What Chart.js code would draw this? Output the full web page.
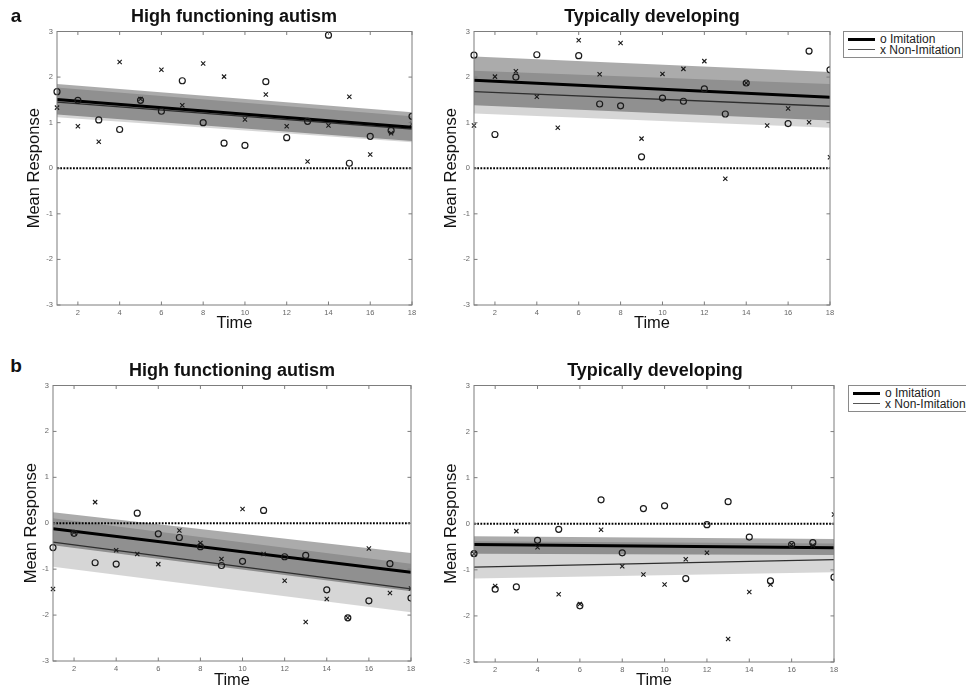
<!DOCTYPE html>
<html>
<head>
<meta charset="utf-8">
<script src="https://cdn.jsdelivr.net/npm/chart.js@4.4.1/dist/chart.umd.min.js"></script>
<style>
body { margin: 0; background: #fff; }
#wrap { position: relative; width: 966px; height: 691px; overflow: hidden; font-family: "Liberation Sans", Arial, sans-serif; }
canvas { position: absolute; }
.txt { position: absolute; white-space: nowrap; color: #111; }
.legend { position: absolute; border: 1px solid #8a8a8a; background: #fff; box-sizing: border-box; }
.legend .ln { position: absolute; left: 4px; width: 27px; background: #000; }
.legend .lt { position: absolute; left: 36px; font-size: 12px; line-height: 12px; color: #222; }
</style>
</head>
<body>
<div id="wrap">
  <canvas id="aHfa"></canvas>
  <canvas id="aTd"></canvas>
  <canvas id="bHfa"></canvas>
  <canvas id="bTd"></canvas>
</div>
<script>
// x values and ticks
const time = [1, 2, 3, 4, 5, 6, 7, 8, 9, 10, 11, 12, 13, 14, 15, 16, 17, 18];
const fitX = [1, 18];
const xTicks = [2, 4, 6, 8, 10, 12, 14, 16, 18];
const yTicks = [-3, -2, -1, 0, 1, 2, 3];
const zeroLine = [0, 0];

// a: High functioning autism
const aHfaImit = [1.68, 1.49, 1.06, 0.85, 1.49, 1.25, 1.92, 1.00, 0.55, 0.50, 1.90, 0.67, 1.03, 2.92, 0.11, 0.70, 0.83, 1.14];
const aHfaNon  = [1.33, 0.92, 0.58, 2.33, 1.52, 2.16, 1.38, 2.30, 2.01, 1.07, 1.62, 0.92, 0.15, 0.94, 1.57, 0.30, 0.77, 0.97];
const aHfaImitFit = [1.51, 0.90], aHfaImitHi = [1.85, 1.23], aHfaImitLo = [1.18, 0.60];
const aHfaNonFit  = [1.45, 0.86], aHfaNonHi  = [1.77, 1.14], aHfaNonLo  = [1.12, 0.57];

// a: Typically developing
const aTdImit = [2.48, 0.74, 2.00, 2.49, null, 2.47, 1.41, 1.37, 0.25, 1.54, 1.47, 1.74, 1.19, 1.87, null, 0.98, 2.57, 2.16];
const aTdNon  = [0.94, 2.01, 2.13, 1.57, 0.89, 2.81, 2.06, 2.75, 0.65, 2.07, 2.18, 2.35, -0.23, 1.87, 0.94, 1.31, 1.01, 0.24];
const aTdImitFit = [1.93, 1.56], aTdImitHi = [2.45, 2.11], aTdImitLo = [1.38, 1.05];
const aTdNonFit  = [1.68, 1.36], aTdNonHi  = [2.14, 1.85], aTdNonLo  = [1.20, 0.89];

// b: High functioning autism
const bHfaImit = [-0.53, -0.22, -0.86, -0.89, 0.22, -0.23, -0.31, -0.51, -0.92, -0.83, 0.28, -0.73, -0.70, -1.45, -2.06, -1.69, -0.88, -1.63];
const bHfaNon  = [-1.43, -0.20, 0.46, -0.59, -0.67, -0.89, -0.16, -0.43, -0.78, 0.31, -0.67, -1.25, -2.15, -1.65, -2.06, -0.55, -1.52, -1.42];
const bHfaImitFit = [-0.12, -1.07], bHfaImitHi = [0.24, -0.65], bHfaImitLo = [-0.48, -1.48];
const bHfaNonFit  = [-0.41, -1.43], bHfaNonHi  = [0.11, -0.88], bHfaNonLo  = [-0.95, -1.94];

// b: Typically developing
const bTdImit = [-0.65, -1.42, -1.37, -0.36, -0.12, -1.78, 0.52, -0.63, 0.33, 0.39, -1.19, -0.02, 0.48, -0.29, -1.24, -0.45, -0.41, -1.16];
const bTdNon  = [-0.65, -1.35, -0.16, -0.51, -1.53, -1.74, -0.13, -0.92, -1.10, -1.32, -0.77, -0.63, -2.50, -1.48, -1.32, -0.45, -0.47, 0.20];
const bTdImitFit = [-0.45, -0.52], bTdImitHi = [-0.27, -0.33], bTdImitLo = [-0.65, -0.68];
const bTdNonFit  = [-0.94, -0.78], bTdNonHi  = [-0.38, -0.43], bTdNonLo  = [-1.19, -1.05];

const FONT = '"Liberation Sans", Arial, sans-serif';
const wrap = document.getElementById('wrap');

function pts(xs, ys) {
    return xs.map((x, i) => ({ x: x, y: ys[i] })).filter(p => p.y !== null);
}

// box around the plot with inward ticks on all four sides (matlab look)
const frame = {
    id: 'frame',
    afterDatasetsDraw(chart) {
        const { ctx, chartArea: a, scales: { x, y } } = chart;
        ctx.save();
        ctx.strokeStyle = '#7d7d7d';
        ctx.lineWidth = 1;
        ctx.strokeRect(a.left, a.top, a.right - a.left, a.bottom - a.top);
        ctx.beginPath();
        x.ticks.forEach(t => {
            const px = x.getPixelForValue(t.value);
            ctx.moveTo(px, a.bottom); ctx.lineTo(px, a.bottom - 3.5);
            ctx.moveTo(px, a.top); ctx.lineTo(px, a.top + 3.5);
        });
        y.ticks.forEach(t => {
            const py = y.getPixelForValue(t.value);
            ctx.moveTo(a.left, py); ctx.lineTo(a.left + 3.5, py);
            ctx.moveTo(a.right, py); ctx.lineTo(a.right - 3.5, py);
        });
        ctx.stroke();
        ctx.restore();
    }
};

function makePanel(id, box, s) {
    const cl = Math.round(box.yTitleX - 9.9);
    const ct = box.t - 8;
    const cr = box.r + 12;
    const cb = Math.round(box.xTitleY + 9.9);
    const cv = document.getElementById(id);
    cv.width = cr - cl;
    cv.height = cb - ct;
    cv.style.left = cl + 'px';
    cv.style.top = ct + 'px';
    const yw = box.l - cl;
    const xh = cb - box.b;

    const band = (ys, color) => ({
        data: pts(fitX, ys), borderWidth: 0, pointRadius: 0,
        fill: color ? '+1' : false, backgroundColor: color || 'transparent'
    });

    new Chart(cv, {
        type: 'line',
        data: {
            datasets: [
                { data: pts(time, s.imit), showLine: false, pointStyle: 'circle', pointRadius: 3,
                  pointBorderWidth: 1.2, pointBorderColor: '#1a1a1a', pointBackgroundColor: 'transparent',
                  clip: { left: false, top: false, right: 0, bottom: false } },
                { data: pts(time, s.non), showLine: false, pointStyle: 'crossRot', pointRadius: 3,
                  pointBorderWidth: 1.1, pointBorderColor: '#1a1a1a',
                  clip: { left: false, top: false, right: 0, bottom: false } },
                { data: pts(fitX, s.imitFit), borderColor: '#000', borderWidth: 3, pointRadius: 0 },
                { data: pts(fitX, s.nonFit), borderColor: '#2e2e2e', borderWidth: 1.3, pointRadius: 0 },
                { data: pts(fitX, zeroLine), borderColor: '#000', borderWidth: 1.8, borderDash: [1.8, 1.4], pointRadius: 0 },
                band(s.imitHi, 'rgba(0,0,0,0.33)'),
                band(s.imitLo),
                band(s.nonHi, 'rgba(0,0,0,0.16)'),
                band(s.nonLo)
            ]
        },
        options: {
            responsive: false,
            animation: false,
            layout: { padding: { left: 0, top: 8, right: 12, bottom: 0 } },
            plugins: { legend: { display: false }, tooltip: { enabled: false } },
            elements: { line: { tension: 0 } },
            scales: {
                x: {
                    type: 'linear', min: 1, max: 18,
                    grid: { display: false, drawTicks: false, tickLength: 0 }, border: { display: false },
                    afterBuildTicks: sc => { sc.ticks = xTicks.map(v => ({ value: v })); },
                    afterFit: sc => { sc.height = xh; },
                    ticks: { font: { size: 7.5, family: FONT }, color: '#666', padding: 3, maxRotation: 0, autoSkip: false },
                    title: { display: true, text: 'Time', color: '#111', padding: 0,
                             font: { size: 16.5, family: FONT, lineHeight: 1.2 } }
                },
                y: {
                    min: -3, max: 3,
                    grid: { display: false, drawTicks: false, tickLength: 0 }, border: { display: false },
                    afterBuildTicks: sc => { sc.ticks = yTicks.map(v => ({ value: v })); },
                    afterFit: sc => { sc.width = yw; },
                    ticks: { font: { size: 7.5, family: FONT }, color: '#666', padding: 4 },
                    title: { display: true, text: 'Mean Response', color: '#111', padding: 0,
                             font: { size: 16.5, family: FONT, lineHeight: 1.2 } }
                }
            }
        },
        plugins: [frame]
    });
}

function text(str, cx, cy, size, bold, align) {
    const d = document.createElement('div');
    d.className = 'txt';
    d.textContent = str;
    d.style.fontSize = size + 'px';
    d.style.lineHeight = size + 'px';
    d.style.fontWeight = bold ? 'bold' : 'normal';
    d.style.top = (cy - size / 2) + 'px';
    if (align === 'left') {
        d.style.left = cx + 'px';
    } else {
        d.style.left = (cx - 200) + 'px';
        d.style.width = '400px';
        d.style.textAlign = 'center';
    }
    wrap.appendChild(d);
}

function legend(left, top, w) {
    const d = document.createElement('div');
    d.className = 'legend';
    d.style.left = left + 'px';
    d.style.top = top + 'px';
    d.style.width = w + 'px';
    d.style.height = '27px';
    d.innerHTML =
        '<div class="ln" style="top:6px;height:3px"></div><div class="lt" style="top:1px">o Imitation</div>' +
        '<div class="ln" style="top:17px;height:1px;background:#555"></div><div class="lt" style="top:12px">x Non-Imitation</div>';
    wrap.appendChild(d);
}

makePanel('aHfa', { l: 57, t: 31, r: 412, b: 305, yTitleX: 35, xTitleY: 323 },
    { imit: aHfaImit, non: aHfaNon, imitFit: aHfaImitFit, imitHi: aHfaImitHi, imitLo: aHfaImitLo,
      nonFit: aHfaNonFit, nonHi: aHfaNonHi, nonLo: aHfaNonLo });
makePanel('aTd', { l: 474, t: 31, r: 830, b: 305, yTitleX: 452, xTitleY: 323 },
    { imit: aTdImit, non: aTdNon, imitFit: aTdImitFit, imitHi: aTdImitHi, imitLo: aTdImitLo,
      nonFit: aTdNonFit, nonHi: aTdNonHi, nonLo: aTdNonLo });
makePanel('bHfa', { l: 53, t: 385, r: 411, b: 661, yTitleX: 32, xTitleY: 680 },
    { imit: bHfaImit, non: bHfaNon, imitFit: bHfaImitFit, imitHi: bHfaImitHi, imitLo: bHfaImitLo,
      nonFit: bHfaNonFit, nonHi: bHfaNonHi, nonLo: bHfaNonLo });
makePanel('bTd', { l: 474, t: 385, r: 834, b: 662, yTitleX: 452, xTitleY: 680 },
    { imit: bTdImit, non: bTdNon, imitFit: bTdImitFit, imitHi: bTdImitHi, imitLo: bTdImitLo,
      nonFit: bTdNonFit, nonHi: bTdNonHi, nonLo: bTdNonLo });

// panel titles and letters
text('a', 16, 15, 19, true);
text('High functioning autism', 234, 16, 18, true);
text('Typically developing', 652, 16, 18, true);
text('b', 16, 365, 19, true);
text('High functioning autism', 232, 370, 18, true);
text('Typically developing', 655, 370, 18, true);

legend(843, 31, 120);
legend(848, 385, 122);
</script>
</body>
</html>
